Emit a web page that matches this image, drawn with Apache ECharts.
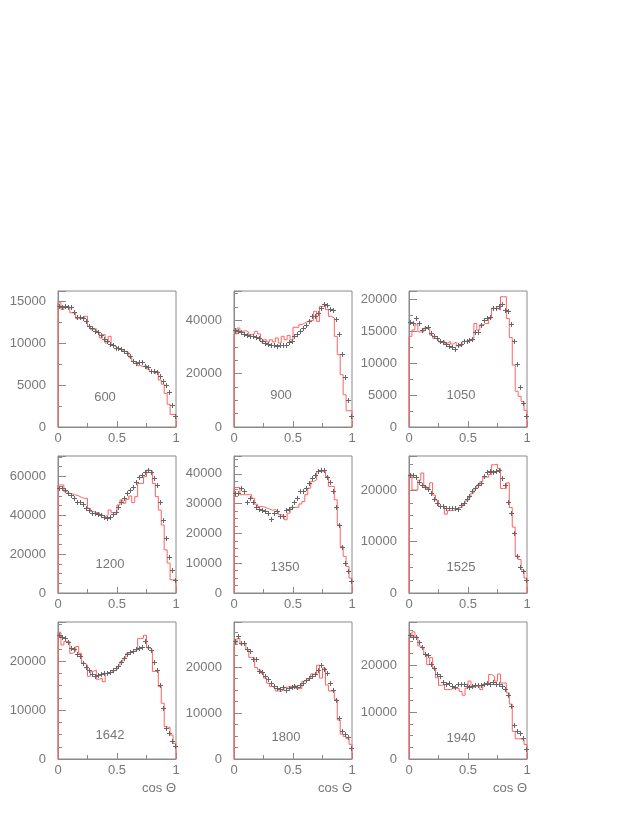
<!DOCTYPE html>
<html>
<head>
<meta charset="utf-8">
<script src="https://cdn.jsdelivr.net/npm/echarts@6/dist/echarts.min.js"></script>
<style>
html,body{margin:0;padding:0;background:#fff;}
#main{width:632px;height:818px;}
</style>
</head>
<body>
<div id="main"></div>
<script>
// ---- data (40 bins over cos theta 0..1) ----
const binWidth = 0.025;
const panelLabels = ['600', '900', '1050', '1200', '1350', '1525', '1642', '1800', '1940'];
const xTickLabels = ['0', '0.5', '1'];
const xTitle = 'cos \u0398';

const data600 = [14400,14300,14400,14300,14300,13750,13100,13100,12950,12600,12000,11850,11450,11300,10900,10500,10250,9850,9750,9450,9450,9300,9050,8800,8500,7900,7600,7700,7750,7300,7100,6700,6650,6600,6100,5450,5000,4200,2600,1300];
const hist600 = [14800,14000,14300,14300,13600,13600,12900,13000,12900,13200,12000,11600,11700,11300,10600,11000,10000,10800,9700,9500,9300,9100,9000,8900,8300,7800,7600,7300,7200,7300,6900,6600,6400,6600,5600,5100,4000,2700,1500,1500];

const data900 = [36500,35900,35500,35000,34600,34300,34000,33700,33400,32200,31500,31100,30900,30600,30300,30600,30900,30700,31900,32400,34000,34900,36100,37100,38400,39900,41500,41500,42700,44600,46100,45900,44300,44000,40600,34900,27400,18600,10300,4200];
const hist900 = [34900,37100,35900,36100,35600,34600,35000,35900,34900,31900,32700,31900,32700,31900,33400,31500,34000,32700,34300,32700,37400,37400,38400,39000,39600,39900,39900,43400,39600,45200,45600,44000,41500,40900,34000,27100,19600,12100,6100,6100];

const data1050 = [16500,16250,17000,16250,15200,15500,15600,14700,14200,13900,13400,13300,13000,12700,12600,12200,12900,13000,13400,13500,13700,13800,14900,14900,15900,16800,17000,17200,18600,18700,19000,19300,18300,18200,16100,13400,9800,6200,3800,1800];
const hist1050 = [14200,15200,16000,14900,14900,15500,15400,14400,13900,13700,13300,13500,13100,13400,13000,13300,12700,12700,13400,13500,13700,13900,16200,15200,16000,16200,16200,17000,18600,18600,18300,20400,20400,17000,14000,9700,5600,4800,4000,2600];

const data1200 = [53800,53800,53000,51300,50400,49000,47000,47000,45600,43600,42700,41000,41000,40700,40200,39300,38500,39300,40500,41900,44400,47000,48700,51600,53000,54700,57300,59800,60700,62400,63200,62400,59000,55600,47000,37600,28200,18500,12000,6500];
const hist1200 = [55600,55600,52100,51300,51000,50400,50000,49200,48700,48700,43600,41900,41400,41400,40200,39300,40200,42700,41400,41000,45300,47900,46200,48200,49900,46500,49600,56400,56400,59800,63200,62900,56400,49600,42700,35000,22200,15400,6800,6800];

const data1350 = [33700,33500,35200,34100,30700,31800,30400,29000,28200,27800,27400,26800,24800,27000,27700,25900,25900,27900,28200,29000,30700,31800,34100,34100,35200,36900,38500,39700,40800,41300,41300,38800,37400,34100,29000,22800,15400,10000,7300,3900];
const hist1350 = [35400,35400,33000,33000,33000,33000,31800,29800,29000,29000,28600,28200,27800,28000,27400,26300,25900,24600,26800,28600,28800,28800,29900,30700,33000,35200,37400,38000,40800,40800,40800,39100,35800,35800,31300,22900,15600,12300,8900,5000];

const data1525 = [22900,22900,22600,21600,21000,20600,20100,19400,18200,17400,16900,16800,16600,16450,16600,16450,16260,17100,17400,18200,18800,19800,20300,21000,21400,22700,23500,23700,23500,23700,23900,22300,21000,17700,15500,11700,7100,5000,4300,2500];
const hist1525 = [23000,20000,20000,21900,23300,20700,20300,21400,19000,18000,16800,16800,15300,16000,16000,16200,16200,16600,17200,17900,18600,19400,20300,21000,21600,22500,22500,23000,24900,25000,24200,20300,20300,21400,16600,12800,7200,6500,4500,2900];

const data1642 = [25300,25000,24700,23900,22700,22400,21400,21100,19600,18900,18200,17300,16900,17200,17300,17500,17500,17700,18200,18600,19100,19900,20600,21400,21800,22100,22400,22700,22800,24200,22800,22300,19900,18200,15200,10400,6300,5300,3700,2700];
const hist1642 = [25900,23300,24000,24000,21600,22000,23000,21600,19600,19200,16900,17900,18200,16300,16500,15800,17500,17700,18000,18200,18900,19900,20600,21600,22000,22000,22300,24600,24700,25300,22700,22300,17900,17900,14800,11400,6600,6400,4900,3200];

const data1800 = [25700,26700,25200,25200,23900,23400,21700,21700,19200,18900,18100,17500,16500,15900,15400,15300,15600,15100,15400,15600,15800,15600,16100,16500,17200,17600,18000,18500,19400,20400,19600,18700,16500,15100,12900,8900,6100,5400,4700,2300];
const hist1800 = [25200,26200,25000,25200,23800,22100,22000,19900,19400,18700,17600,16500,15800,15400,14800,14700,15100,15600,15800,15800,16000,15300,15300,16900,17200,17600,18500,18300,20400,17600,19800,16100,14800,14700,12900,8500,5400,4900,4400,3200];

const data1940 = [26400,26000,25900,25000,23900,22400,22100,20300,19400,18200,17600,16400,16000,16100,15500,15300,15900,16000,15900,15600,15300,15500,15700,15700,15700,16000,16200,15900,16400,16000,15900,15500,15000,13700,11400,7300,6000,5500,4500,2100];
const hist1940 = [25900,27100,26000,24100,23700,22300,20100,21600,19400,17300,15700,15900,14800,14800,15000,15100,15000,14400,13600,15100,16600,15300,15500,15500,14800,15900,16200,18000,17600,16600,18100,16200,16200,14100,11700,5900,4300,4300,4100,3100];

const pointSets = [data600, data900, data1050, data1200, data1350, data1525, data1642, data1800, data1940];
const histSets = [hist600, hist900, hist1050, hist1200, hist1350, hist1525, hist1642, hist1800, hist1940];
const yMax = [16200, 51000, 21300, 70500, 46000, 26600, 28000, 29800, 29200];
const yInterval = [5000, 20000, 5000, 20000, 10000, 10000, 10000, 10000, 10000];

// ---- layout / style ----
const colLeft = [58, 234, 409];
const rowTop = [291, 456, 622];
const pw = 118, ph = 137;
const minorSplit = [2, 4, 2, 4, 4, 4, 4, 4, 4];
const labelPos = [[105,397],[281,395],[461,395],[110,564],[285,567],[461,567],[110,735],[286,737],[461,738]];
const FONT = 'Liberation Sans, Arial, Helvetica, sans-serif';
const axisGray = '#8a8a8a';
const textGray = '#777';

const grids = [], xAxes = [], yAxes = [], series = [], graphics = [];
for (let i = 0; i < 9; i++) {
  const r = Math.floor(i / 3), c = i % 3;
  grids.push({left: colLeft[c], top: rowTop[r], width: pw, height: (r === 0 ? 136 : ph),
    show: true, borderColor: axisGray, borderWidth: 1, backgroundColor: 'transparent',
    containLabel: false, outerBoundsMode: 'none'});
  xAxes.push({type: 'value', gridIndex: i, min: 0, max: 1, interval: 0.5,
    axisLine: {show: true, onZero: false, lineStyle: {color: axisGray}},
    axisTick: {show: true, inside: true, length: 6, lineStyle: {color: axisGray}},
    minorTick: {show: true, splitNumber: 2, length: 4, lineStyle: {color: axisGray}},
    splitLine: {show: false},
    axisLabel: {color: textGray, fontSize: 13, fontFamily: FONT, margin: 5,
      formatter: v => v === 0 ? xTickLabels[0] : (v === 1 ? xTickLabels[2] : xTickLabels[1])}});
  yAxes.push({type: 'value', gridIndex: i, min: 0, max: yMax[i], interval: yInterval[i],
    axisLine: {show: true, onZero: false, lineStyle: {color: axisGray}},
    axisTick: {show: true, inside: true, length: 8, lineStyle: {color: axisGray}},
    minorTick: {show: true, splitNumber: minorSplit[i], length: 4, lineStyle: {color: axisGray}},
    splitLine: {show: false},
    axisLabel: {color: textGray, fontSize: 13, fontFamily: FONT, margin: 12, showMaxLabel: false,
      formatter: v => String(Math.round(v))}});

  // red step histogram built from bin contents
  const h = histSets[i];
  const steps = [[0, 0]];
  h.forEach((v, k) => { steps.push([k * binWidth, v]); steps.push([(k + 1) * binWidth, v]); });
  steps.push([1, 0]);
  series.push({type: 'line', xAxisIndex: i, yAxisIndex: i, data: steps, showSymbol: false,
    symbol: 'none', lineStyle: {color: '#ff6262', width: 1}, silent: true, z: 3});

  // black data points as small crosses
  const pts = pointSets[i].map((v, k) => [(k + 0.5) * binWidth, v]);
  series.push({type: 'custom', xAxisIndex: i, yAxisIndex: i, data: pts, silent: true, z: 4,
    renderItem: function (params, api) {
      const p = api.coord([api.value(0), api.value(1)]);
      const x = Math.round(p[0]), y = Math.round(p[1]);
      return {type: 'group', children: [
        {type: 'rect', shape: {x: x - 2, y: y, width: 5, height: 1}, style: {fill: '#666'}},
        {type: 'rect', shape: {x: x, y: y - 2, width: 1, height: 5}, style: {fill: '#666'}}
      ]};
    }});

  graphics.push({type: 'text', x: labelPos[i][0], y: labelPos[i][1], silent: true,
    style: {text: panelLabels[i], fill: textGray, font: '13px ' + FONT, textAlign: 'center', textVerticalAlign: 'middle'}});
}
for (let c = 0; c < 3; c++) {
  graphics.push({type: 'text', x: colLeft[c] + pw, y: 788, silent: true,
    style: {text: xTitle, fill: textGray, font: '13px ' + FONT, textAlign: 'right', textVerticalAlign: 'middle'}});
}

const chart = echarts.init(document.getElementById('main'), null, {renderer: 'canvas'});
chart.setOption({
  animation: false,
  backgroundColor: '#fff',
  grid: grids, xAxis: xAxes, yAxis: yAxes, series: series, graphic: graphics
});
</script>
</body>
</html>
